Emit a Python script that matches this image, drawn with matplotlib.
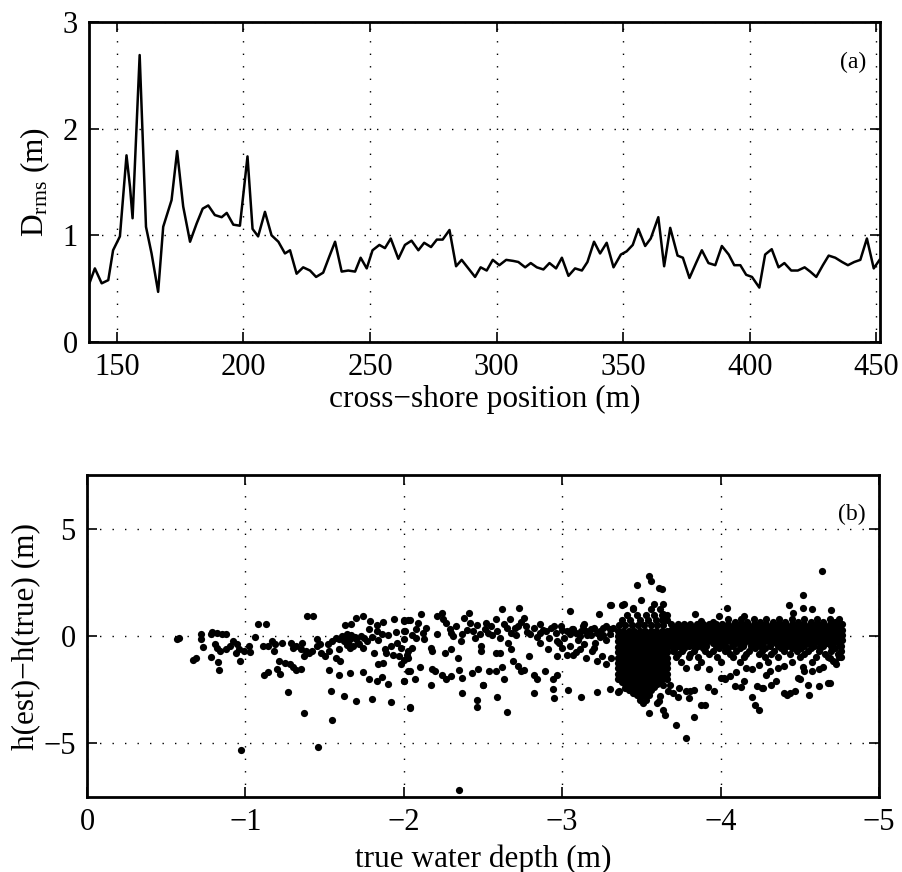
import matplotlib
matplotlib.use("Agg")
import matplotlib.pyplot as plt

plt.rcParams['font.family'] = ['Liberation Serif', 'DejaVu Serif']
plt.rcParams['mathtext.fontset'] = 'custom'
plt.rcParams['mathtext.rm'] = 'Liberation Serif'
plt.rcParams['mathtext.it'] = 'Liberation Serif:italic'

# (a) rms difference along the cross-shore transect
cross_shore = [
    139.3, 141.3, 144.0, 146.6, 148.5, 151.2, 153.8, 155.2, 156.2, 159.0,
    161.5, 163.7, 166.3, 168.3, 171.6, 173.8, 176.2, 178.9, 181.5, 183.9,
    186.1, 188.7, 191.4, 193.4, 196.0, 198.6, 199.7, 201.6, 203.6, 205.8,
    208.5, 211.1, 213.8, 216.4, 218.4, 221.0, 223.6, 226.3, 228.7, 231.5,
    233.9, 236.2, 238.8, 241.4, 244.1, 246.3, 248.7, 251.0, 253.7, 255.9,
    258.2, 261.2, 263.8, 266.4, 269.1, 271.4, 274.1, 276.4, 278.7, 281.4,
    284.0, 286.2, 288.5, 291.5, 293.7, 296.1, 298.5, 301.1, 303.8, 306.6,
    308.6, 311.3, 313.5, 315.9, 318.5, 320.9, 323.5, 325.8, 328.4, 331.0,
    333.7, 335.9, 338.5, 340.9, 343.5, 346.2, 349.1, 351.4, 353.8, 356.0,
    358.7, 360.9, 363.9, 366.2, 368.6, 371.5, 373.6, 376.2, 378.8, 381.1,
    383.7, 386.4, 389.0, 391.7, 393.9, 396.3, 398.6, 400.9, 403.8, 406.1,
    408.7, 411.4, 413.7, 416.4, 419.0, 421.7, 423.9, 426.3, 428.9, 431.2,
    433.8, 436.5, 438.8, 441.3, 443.7, 446.3, 449.0, 451.3,
]
d_rms = [
    0.56, 0.69, 0.55, 0.58, 0.86, 0.99, 1.75, 1.45, 1.16, 2.69,
    1.08, 0.83, 0.47, 1.08, 1.33, 1.79, 1.27, 0.94, 1.11, 1.25,
    1.28, 1.19, 1.17, 1.21, 1.10, 1.09, 1.33, 1.74, 1.06, 0.99,
    1.22, 1.00, 0.94, 0.83, 0.86, 0.64, 0.70, 0.67, 0.61, 0.65,
    0.80, 0.94, 0.66, 0.67, 0.66, 0.79, 0.69, 0.86, 0.91, 0.88,
    0.97, 0.78, 0.91, 0.95, 0.86, 0.93, 0.89, 0.96, 0.96, 1.05,
    0.71, 0.77, 0.70, 0.61, 0.70, 0.67, 0.77, 0.72, 0.77, 0.76,
    0.75, 0.70, 0.74, 0.70, 0.68, 0.74, 0.69, 0.79, 0.62, 0.69,
    0.67, 0.75, 0.94, 0.83, 0.93, 0.70, 0.82, 0.85, 0.91, 1.06,
    0.90, 0.97, 1.17, 0.71, 1.07, 0.81, 0.79, 0.60, 0.74, 0.86,
    0.74, 0.72, 0.90, 0.82, 0.72, 0.72, 0.63, 0.61, 0.51, 0.82,
    0.87, 0.70, 0.74, 0.67, 0.67, 0.70, 0.66, 0.61, 0.72, 0.81,
    0.79, 0.75, 0.72, 0.75, 0.77, 0.97, 0.69, 0.77,
]

# (b) estimate error vs true depth: (depth, error) pairs
pts_shallow = [
    (-0.57, -0.12), (-0.58, -0.08), (-0.67, -1.12), (-0.69, -1.03), (-0.72, 0.08),
    (-0.72, -0.15), (-0.73, -0.50), (-0.78, 0.08), (-0.79, 0.20), (-0.82, 0.13),
    (-0.85, 0.11), (-0.88, 0.11), (-0.78, -0.98), (-0.83, -1.20), (-0.835, -1.60),
    (-0.81, -0.39), (-0.82, -0.55), (-0.84, -0.70), (-0.88, -0.62), (-0.90, -0.47),
    (-0.92, -0.23), (-0.945, -0.39), (-0.94, -0.78), (-0.965, -1.17), (-0.96, -0.62),
    (-0.99, -0.70), (-1.02, -0.47), (-1.03, -0.73), (-0.97, -5.33), (-1.06, -0.05),
    (-1.08, 0.55), (-1.13, 0.55), (-1.11, -0.47), (-1.14, -0.47), (-1.17, -0.23),
    (-1.19, -0.39), (-1.18, -0.70), (-1.23, -0.31), (-1.12, -1.79), (-1.14, -1.68),
    (-1.20, -1.51), (-1.21, -1.17), (-1.22, -1.76), (-1.25, -1.25), (-1.28, -1.32),
    (-1.30, -1.45), (-1.32, -1.56), (-1.35, -1.53), (-1.27, -2.62), (-1.29, -0.31),
    (-1.30, -0.55), (-1.32, -0.47), (-1.36, -0.31), (-1.35, -0.62), (-1.38, -0.70),
    (-1.37, -0.93), (-1.40, -0.78), (-1.42, -0.70), (-1.45, -0.15), (-1.45, -0.47),
    (-1.47, -0.39), (-1.48, -0.78), (-1.50, -0.93), (-1.52, -0.39), (-1.53, -0.70),
    (-1.55, -0.23), (-1.57, -0.08), (-1.59, -0.15), (-1.61, 0.00), (-1.62, -0.23),
    (-1.64, 0.08), (-1.65, -0.31), (-1.66, -0.55), (-1.68, -0.47), (-1.70, -0.15),
    (-1.72, -0.39), (-1.73, 0.00), (-1.74, -0.55), (-1.77, -0.23), (-1.59, -0.62),
    (-1.57, -1.01), (-1.60, -1.17), (-1.39, 0.93), (-1.43, 0.93), (-1.37, -3.58),
    (-1.46, -5.17), (-1.55, -3.89), (-1.54, -2.54), (-1.62, -2.77), (-1.70, -3.04),
    (-1.80, -2.94), (-1.92, -3.08), (-2.04, -3.35), (-1.63, 0.51), (-1.67, 0.57),
    (-1.70, 0.83), (-1.74, 0.93), (-1.79, 0.70), (-1.83, 0.51), (-1.87, 0.67),
    (-1.94, 0.78), (-2.00, 0.73), (-2.03, 0.73), (-1.53, -1.56), (-1.59, -1.79),
    (-1.66, -1.71), (-1.74, -1.67), (-1.78, -1.98), (-1.83, -2.10), (-1.86, -1.92),
    (-1.90, -2.23), (-2.00, -2.10), (-2.03, -1.64), (-1.81, -0.78), (-1.84, -1.32),
    (-1.87, -1.25), (-1.89, -0.78), (-1.93, -0.89), (-1.97, -0.93), (-1.98, -1.32),
    (-2.00, -1.09), (-2.03, -0.70), (-1.96, -0.31), (-1.98, -0.55), (-2.00, 0.23),
    (-1.62, -0.08), (-1.66, -0.15), (-1.69, -0.05), (-1.71, -0.30), (-1.64, -0.40),
    (-1.67, 0.05), (-1.75, -0.10), (-1.80, -0.05), (-1.84, -0.20), (-1.86, 0.10),
    (-1.90, 0.05), (-1.83, 0.25), (-1.92, -0.45), (-1.95, 0.20), (-2.05, 0.05),
    (-2.08, 0.35), (-1.78, 0.35), (-1.88, -0.60),
]
pts_mid = [
    (-2.00, 0.70), (-2.04, 0.73), (-2.09, 0.62), (-2.11, 1.01), (-2.01, 0.23),
    (-2.00, -0.15), (-2.05, -0.57), (-2.02, -0.86), (-2.03, -1.01), (-2.08, -0.08),
    (-2.12, 0.15), (-2.13, -0.15), (-2.14, 0.39), (-2.17, -0.55), (-2.18, -0.70),
    (-2.21, 0.93), (-2.24, 1.09), (-2.25, 0.78), (-2.27, 0.62), (-2.29, 0.31),
    (-2.30, 0.15), (-2.31, 0.00), (-2.26, -0.78), (-2.30, -0.62), (-2.34, -1.01),
    (-2.21, 0.08), (-2.37, 0.08), (-2.38, 0.86), (-2.41, 1.09), (-2.42, 0.62),
    (-2.44, 0.23), (-2.46, 0.54), (-2.48, 0.08), (-2.49, -0.47), (-2.51, 0.31),
    (-2.53, 0.15), (-2.55, 0.47), (-2.58, 0.78), (-2.59, 0.23), (-2.61, -0.08),
    (-2.62, 1.25), (-2.65, 0.39), (-2.67, 0.78), (-2.68, 0.15), (-2.70, 0.39),
    (-2.72, 0.47), (-2.73, 1.32), (-2.76, 0.86), (-2.77, 0.47), (-2.58, -0.78),
    (-2.61, -0.78), (-2.68, -0.62), (-2.49, -0.70), (-2.04, -1.64), (-2.07, -2.02),
    (-2.10, -1.45), (-2.18, -1.51), (-2.20, -1.64), (-2.24, -1.79), (-2.27, -1.98),
    (-2.30, -1.87), (-2.35, -1.56), (-2.37, -1.95), (-2.43, -1.71), (-2.47, -1.51),
    (-2.50, -2.26), (-2.54, -1.64), (-2.58, -1.64), (-2.62, -1.45), (-2.63, -2.02),
    (-2.69, -1.17), (-2.72, -1.40), (-2.74, -1.64), (-2.76, -1.56), (-2.79, -0.93),
    (-2.82, -1.79), (-2.84, -2.02), (-2.89, -1.64), (-2.94, -2.02), (-2.97, -1.79),
    (-2.00, -2.10), (-2.17, -2.26), (-2.37, -2.65), (-2.46, -3.00), (-2.46, -3.32),
    (-2.50, -2.26), (-2.59, -2.85), (-2.65, -3.55), (-2.04, -3.32), (-2.82, -2.65),
    (-2.94, -2.45), (-2.95, -2.88), (-3.04, -2.52), (-3.12, -2.83), (-3.22, -2.62),
    (-3.30, -2.46), (-3.35, -2.60), (-2.35, -7.15),
    (-2.82, 0.39), (-2.86, 0.15), (-2.90, 0.23), (-2.93, 0.39), (-2.96, 0.15),
    (-2.99, 0.47), (-3.01, -0.08), (-3.03, 0.23), (-3.05, 0.08), (-3.07, 0.31),
    (-3.09, 0.15), (-3.11, 0.00), (-3.13, 0.47), (-3.15, 0.23), (-3.18, 0.31),
    (-3.20, 0.39), (-3.22, 0.15), (-3.24, 0.23), (-3.26, 0.39), (-3.28, 0.47),
    (-3.30, 0.31), (-3.32, 0.39), (-2.86, -0.31), (-2.91, -0.62), (-2.97, -0.93),
    (-3.03, -0.86), (-3.07, -0.86), (-3.11, -0.62), (-3.15, -1.01), (-3.19, -0.70),
    (-3.22, -1.17), (-3.25, -0.93), (-3.28, -1.32), (-3.31, -1.01), (-2.97, -0.23),
    (-3.05, -0.47), (-3.14, -0.39), (-3.21, -0.31), (-3.05, 1.17), (-3.14, 0.55),
    (-3.23, 1.04), (-3.30, 1.43), (-3.38, 1.43), (-3.47, 2.37), (-2.80, 0.10),
    (-2.84, -0.05), (-2.88, 0.30), (-2.92, -0.10), (-2.78, 0.20), (-2.86, 0.55),
    (-2.95, 0.45), (-3.00, 0.30), (-2.98, -0.30), (-3.10, -0.20), (-3.16, 0.05),
    (-3.26, 0.05), (-3.28, -0.20), (-3.20, -0.55), (-3.00, -0.55), (-3.09, -0.75),
    (-2.33, 0.45), (-2.36, -0.25), (-2.40, 0.30), (-2.45, -0.10), (-2.52, 0.60),
    (-2.56, 0.05), (-2.63, 0.55), (-2.66, -0.30), (-2.71, 0.05), (-2.74, 0.65),
    (-3.18, 0.05), (-3.24, -0.05), (-3.30, 0.10), (-3.12, 0.25), (-3.06, 0.35),
]
pts_deep = [
    (-3.64, -2.26), (-3.68, -2.29), (-3.70, -2.65), (-3.73, -2.85), (-3.78, -2.57),
    (-3.80, -2.88), (-3.83, -2.49), (-3.88, -3.19), (-3.90, -3.22), (-3.92, -2.38),
    (-3.96, -2.57), (-4.00, -1.95), (-4.03, -2.02), (-4.06, -1.87), (-4.10, -1.67),
    (-4.09, -2.34), (-4.13, -2.38), (-4.16, -1.48), (-4.15, -2.10), (-4.20, -2.85),
    (-4.22, -3.19), (-4.24, -3.43), (-4.24, -1.36), (-4.23, -2.34), (-4.27, -2.42),
    (-4.29, -1.79), (-4.31, -1.64), (-4.35, -2.10), (-4.36, -1.48), (-4.40, -2.65),
    (-4.42, -2.73), (-4.44, -2.65), (-4.47, -2.57), (-4.49, -1.95), (-4.52, -1.45),
    (-4.53, -1.64), (-4.56, -2.73), (-4.58, -1.64), (-4.62, -2.31), (-4.65, -1.45),
    (-4.69, -2.18), (-4.69, -1.01), (-4.71, -1.17), (-4.73, -1.32), (-3.65, -3.66),
    (-3.72, -4.16), (-3.78, -4.75), (-3.83, -3.79), (-3.55, -3.58), (-3.64, -3.43),
    (-3.61, -3.04), (-3.51, -3.12), (-3.54, -2.70), (-3.56, -2.42), (-4.43, 1.43),
    (-4.46, 1.09), (-4.52, 1.90), (-4.52, 1.32), (-4.58, 1.25), (-4.64, 3.04),
    (-4.70, 1.20), (-4.04, 1.32), (-4.15, 0.93), (-3.84, 1.01), (-3.88, 0.70),
    (-3.99, 0.93), (-3.39, 1.48), (-3.45, 1.32), (-3.50, 1.67), (-3.58, 1.48),
    (-3.64, 1.48), (-3.64, 1.01), (-3.31, 1.43), (-3.55, 2.80), (-3.56, 2.57),
    (-3.61, 2.26), (-3.63, 2.18), (-3.40, -2.42), (-3.42, -2.49), (-3.45, -2.65),
    (-3.36, -2.57), (-3.60, -3.12), (-3.62, -2.80), (-3.67, -2.54), (-3.74, -2.42),
    (-3.81, -2.57), (-4.02, -1.95), (-4.26, -2.42), (-4.32, -2.26), (-4.50, -1.98),
    (-4.55, -2.26), (-4.68, -2.18), (-3.78, -1.50), (-3.85, -1.45), (-3.93, -1.55),
    (-4.20, -1.55), (-4.40, -1.40), (-4.62, -1.55), (-4.76, -0.95),
]

# heavily overlapping region: depth values per error level
block_cols = [-3.35, -3.385, -3.42, -3.455, -3.49, -3.525, -3.56, -3.595, -3.63, -3.665]
block_cols_b = [-3.367, -3.402, -3.437, -3.472, -3.507, -3.542, -3.577, -3.612, -3.647]
band_cols = [-3.69, -3.73, -3.77, -3.81, -3.85, -3.89, -3.93, -3.97, -4.01, -4.05,
             -4.09, -4.13, -4.17, -4.21, -4.25, -4.29, -4.33, -4.37, -4.41, -4.45,
             -4.49, -4.53, -4.57, -4.61, -4.65, -4.69, -4.73, -4.77]
band_cols_b = [-3.71, -3.75, -3.79, -3.83, -3.87, -3.91, -3.95, -3.99, -4.03, -4.07,
               -4.11, -4.15, -4.19, -4.23, -4.27, -4.31, -4.35, -4.39, -4.43, -4.47,
               -4.51, -4.55, -4.59, -4.63, -4.67, -4.71, -4.75]
dense_rows = [
    (1.25, [-3.45, -3.56, -3.62]),
    (1.0, [-3.41, -3.47, -3.53, -3.58, -3.63, -3.66]),
    (0.75, [-3.38, -3.43, -3.49, -3.54, -3.59, -3.63, -3.66]),
    (0.5, [-3.36, -3.40, -3.44, -3.48, -3.52, -3.56, -3.60, -3.64]),
    (0.25, block_cols), (0.0, block_cols), (-0.25, block_cols), (-0.5, block_cols),
    (-0.75, block_cols), (-1.0, block_cols), (-1.25, block_cols), (-1.5, block_cols),
    (-1.75, block_cols), (-2.0, block_cols),
    (0.125, block_cols_b), (-0.125, block_cols_b), (-0.375, block_cols_b),
    (-0.625, block_cols_b), (-0.875, block_cols_b), (-1.125, block_cols_b),
    (-1.375, block_cols_b), (-1.625, block_cols_b), (-1.875, block_cols_b),
    (-2.125, [-3.38, -3.42, -3.46, -3.50, -3.54, -3.58, -3.62]),
    (-2.25, [-3.40, -3.44, -3.48, -3.52, -3.56, -3.60]),
    (-2.375, [-3.42, -3.46, -3.50, -3.54, -3.58]),
    (-2.5, [-3.44, -3.48, -3.52, -3.56]),
    (-2.625, [-3.46, -3.50, -3.54]),
    (-2.75, [-3.47, -3.51, -3.55]),
    (-3.0, [-3.49, -3.53]),
    (0.8, [-4.05, -4.13, -4.21, -4.29, -4.37, -4.45, -4.53, -4.61, -4.69, -4.75]),
    (0.68, [-3.95, -4.09, -4.17, -4.25, -4.33, -4.41, -4.49, -4.57, -4.65, -4.72]),
    (0.55, band_cols), (0.3, band_cols), (0.05, band_cols), (-0.2, band_cols),
    (0.425, band_cols_b), (0.175, band_cols_b), (-0.075, band_cols_b),
    (-0.325, band_cols_b),
    (-0.45, [-3.69, -3.74, -3.80, -3.86, -3.91, -3.97, -4.02, -4.08, -4.14, -4.19,
             -4.25, -4.31, -4.36, -4.42, -4.48, -4.53, -4.59, -4.65, -4.70, -4.76]),
    (-0.575, [-3.71, -3.77, -3.84, -3.89, -3.99, -4.05, -4.12, -4.22, -4.28, -4.38,
              -4.45, -4.51, -4.57, -4.63, -4.72]),
    (-0.7, [-3.70, -3.76, -3.83, -3.90, -3.95, -4.03, -4.10, -4.18, -4.26, -4.34,
            -4.40, -4.48, -4.55, -4.62, -4.70, -4.76]),
    (-0.825, [-3.73, -3.81, -3.93, -4.06, -4.16, -4.24, -4.32, -4.44, -4.53, -4.66,
              -4.74]),
    (-0.95, [-3.72, -3.80, -3.86, -3.98, -4.08, -4.15, -4.28, -4.36, -4.50, -4.60,
             -4.68, -4.75]),
    (-1.2, [-3.75, -3.88, -4.00, -4.12, -4.30, -4.45, -4.58, -4.72]),
]

fig = plt.figure(figsize=(9.03, 8.72), dpi=100)
ax1 = fig.add_axes([0.0986, 0.6078, 0.876, 0.367])
ax2 = fig.add_axes([0.0963, 0.086, 0.877, 0.369])

grid_style = dict(color='black', linestyle=(0, (1, 8)), linewidth=1.0)


def style_axes(ax):
    for sp in ax.spines.values():
        sp.set_linewidth(2.0)
    ax.tick_params(direction='in', top=True, right=True, length=7, width=1.2,
                   labelsize=22, pad=8)
    ax.grid(True, **grid_style)


# panel (a)
ax1.plot(cross_shore, d_rms, color='black', linewidth=1.8)
ax1.set_xlim(139, 451.5)
ax1.set_ylim(0, 3)
ax1.set_xticks([150, 200, 250, 300, 350, 400, 450])
ax1.set_yticks([0, 1, 2, 3])
style_axes(ax1)
ax1.set_xlabel('cross\u2212shore position (m)', fontsize=22.5, labelpad=2)
ax1.set_ylabel(r'D$_{\mathrm{rms}}$ (m)', fontsize=22.5, labelpad=8)
ax1.text(0.966, 0.873, '(a)', transform=ax1.transAxes, fontsize=17,
         ha='center', va='center')

# panel (b)
all_pts = pts_shallow + pts_mid + pts_deep
ax2.plot([p[0] for p in all_pts], [p[1] for p in all_pts], 'o', color='black',
         markersize=5.2, markeredgewidth=0)
for err, depths in dense_rows:
    ax2.plot(depths, [err] * len(depths), 'o', color='black',
             markersize=5.2, markeredgewidth=0)
ax2.set_xlim(0, -5)
ax2.set_ylim(-7.5, 7.5)
ax2.set_xticks([0, -1, -2, -3, -4, -5])
ax2.set_yticks([-5, 0, 5])
style_axes(ax2)
ax2.set_xlabel('true water depth (m)', fontsize=22.5, labelpad=5)
ax2.set_ylabel('h(est)\u2212h(true) (m)', fontsize=22.5, labelpad=2)
ax2.text(0.966, 0.877, '(b)', transform=ax2.transAxes, fontsize=17,
         ha='center', va='center')

fig.savefig('out.png', dpi=100)
